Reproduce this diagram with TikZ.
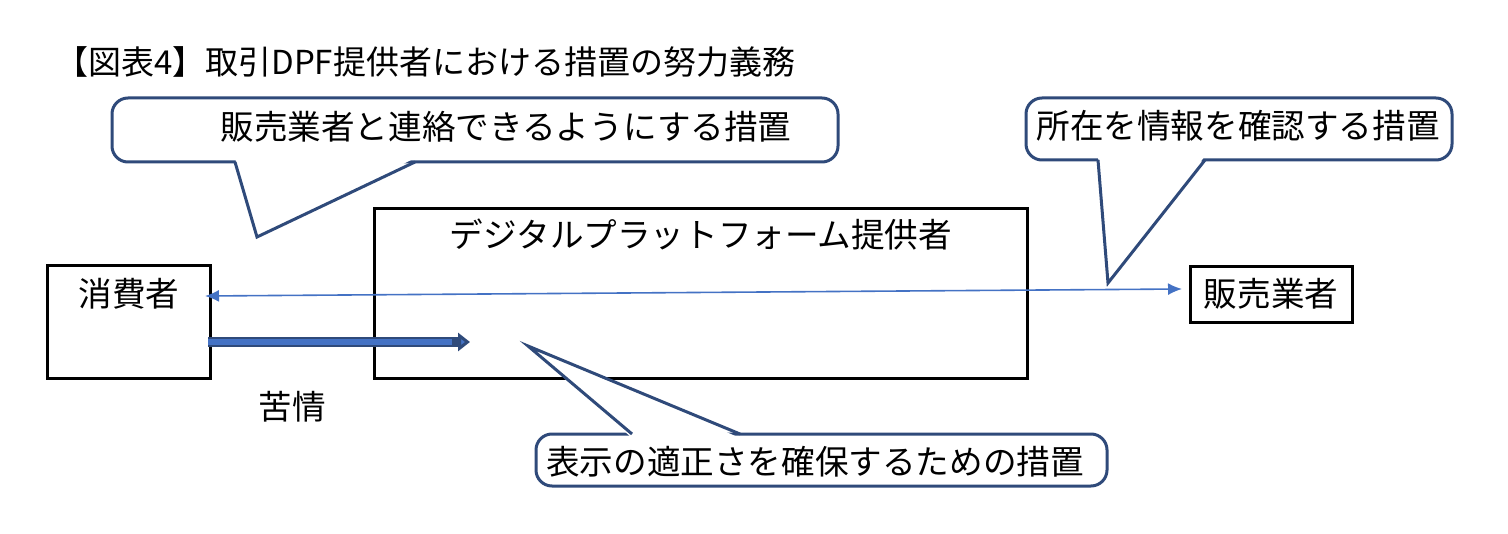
\documentclass[tikz,border=0pt]{standalone}
\usepackage{fontspec}
\setmainfont{Noto Sans CJK JP}
\usetikzlibrary{arrows.meta}
\definecolor{cb}{HTML}{2F4A7A}
\definecolor{ab}{HTML}{4472C4}
\begin{document}
\begin{tikzpicture}[x=0.5pt,y=-0.5pt,
  callout/.style={draw=cb,line width=1.5pt,rounded corners=8pt,fill=white,inner sep=0pt},
  big/.style={font=\fontsize{16.8}{19}\selectfont},
  boxn/.style={draw=black,line width=1.5pt,inner sep=0pt},
  tail/.style={draw=cb,line width=1.5pt,line join=miter}]
\useasboundingbox (0,0) rectangle (1508,534);
\node[anchor=west,font=\fontsize{16.5}{19}\selectfont] (title) at (48,62) {【図表4】取引DPF提供者における措置の努力義務};
% boxes
\node[boxn,minimum width=653*0.5pt,minimum height=169*0.5pt] (dpf) at (700.5,293.5) {};
\node[big] (dpft) at (701,235) {デジタルプラットフォーム提供者};
\node[boxn,minimum width=163*0.5pt,minimum height=113*0.5pt] (cons) at (128.5,321.5) {};
\node[big] (const) at (129,294) {消費者};
\node[boxn,big,minimum width=162*0.5pt,minimum height=56*0.5pt] (sell) at (1271,294) {販売業者};
\node[big] (kujo) at (292,407) {苦情};
% arrows
\coordinate (a1) at (205,296); \coordinate (a2) at (1182,289);
\draw[ab,line width=0.8pt,{Latex[length=7pt,width=6pt]}-{Latex[length=7pt,width=6pt]}] (a1) -- (a2);
\coordinate (t1) at (208,342); \coordinate (t2) at (470,342);
\draw[cb,line width=5pt,-{Triangle[length=6pt,width=9pt,fill=ab]}] (t1) -- (t2);
\draw[ab,line width=3pt,shorten >=2pt] (t1) -- (456,342);
% callout 1
\node[callout,minimum width=726*0.5pt,minimum height=64*0.5pt] (c1) at (475,130) {};
\coordinate (c1a) at (235,162); \coordinate (c1b) at (257,237); \coordinate (c1c) at (415,162);
\fill[white] (235,158) -- (c1b) -- (415,158) -- cycle;
\draw[tail] (c1a) -- (c1b) -- (c1c);
\node[big] (c1t) at (506,127) {販売業者と連絡できるようにする措置};
% callout 2
\node[callout,minimum width=426*0.5pt,minimum height=62*0.5pt] (c2) at (1239,129) {};
\coordinate (c2a) at (1098,160); \coordinate (c2b) at (1108,283); \coordinate (c2c) at (1205,160);
\fill[white] (1098,156) -- (c2b) -- (1205,156) -- cycle;
\draw[tail] (c2a) -- (c2b) -- (c2c);
\node[big] (c2t) at (1238,126) {所在を情報を確認する措置};
% callout 3
\node[callout,minimum width=571*0.5pt,minimum height=52*0.5pt] (c3) at (821.5,460) {};
\coordinate (c3a) at (632,434); \coordinate (c3b) at (528,346); \coordinate (c3c) at (740,434);
\fill[white] (632,438) -- (c3b) -- (740,438) -- cycle;
\draw[tail] (c3a) -- (c3b) -- (c3c);
\node[big] (c3t) at (815,462) {表示の適正さを確保するための措置};
\end{tikzpicture}
\end{document}
